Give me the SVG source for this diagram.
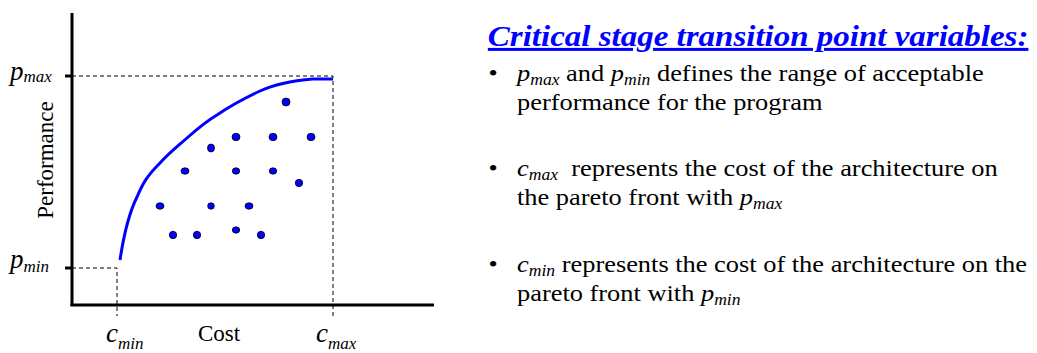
<svg xmlns="http://www.w3.org/2000/svg" width="1037" height="353" viewBox="0 0 1037 353">
<style>
.t{font-family:"Liberation Serif","Times New Roman",serif;fill:#000}
.i{font-style:italic}
.axis{stroke:#000;stroke-width:3;fill:none}
.dash{stroke:#000;stroke-width:1;stroke-dasharray:4,3;fill:none}
.dot{fill:#0000ff;stroke:#000;stroke-width:0.8}
.title{font-family:"Liberation Serif","Times New Roman",serif;font-weight:bold;font-style:italic;fill:#0000ff;text-decoration:underline}
</style>
<rect width="1037" height="353" fill="#fff"/>
<g id="axes">
<line class="axis" x1="72" y1="13" x2="72" y2="306"/>
<line class="axis" x1="70.5" y1="305" x2="434" y2="305"/>
<line class="axis" x1="65" y1="76" x2="72" y2="76" stroke-width="2"/>
<line class="axis" x1="65" y1="268" x2="72" y2="268" stroke-width="2"/>
</g>
<g id="connectors">
<path class="dash" d="M72,76 H333 V316"/>
<path class="dash" d="M72,268 H117 V316"/>
</g>
<g id="pareto-front">
<path d="M120,260 C123,240 128,215 137,197 C143,183 147,176 160,163 C170,152 178,146 187,138 C196,130 205,122 217,115 C233,104 245,98 260,91 C275,84 290,81 313,79 L333,79" fill="none" stroke="#0000ff" stroke-width="3"/>
</g>
<g id="points">
<ellipse class="dot" cx="286" cy="102" rx="4" ry="4"/>
<ellipse class="dot" cx="236" cy="137" rx="4" ry="3.7"/>
<ellipse class="dot" cx="273" cy="137" rx="4" ry="3.7"/>
<ellipse class="dot" cx="311" cy="137" rx="4" ry="3.7"/>
<ellipse class="dot" cx="211" cy="148" rx="3.5" ry="4"/>
<ellipse class="dot" cx="185" cy="171" rx="4" ry="3.2"/>
<ellipse class="dot" cx="236" cy="171" rx="3.7" ry="3.2"/>
<ellipse class="dot" cx="273" cy="171" rx="3.7" ry="3.2"/>
<ellipse class="dot" cx="299" cy="183" rx="3.7" ry="3.7"/>
<ellipse class="dot" cx="160" cy="206" rx="4" ry="3.2"/>
<ellipse class="dot" cx="211" cy="206" rx="3.3" ry="3.2"/>
<ellipse class="dot" cx="249" cy="206" rx="4" ry="3.2"/>
<ellipse class="dot" cx="173" cy="235" rx="3.7" ry="3.7"/>
<ellipse class="dot" cx="197" cy="235" rx="3.7" ry="3.7"/>
<ellipse class="dot" cx="236" cy="230" rx="3.7" ry="3.2"/>
<ellipse class="dot" cx="261" cy="235" rx="3.7" ry="3.7"/>
</g>
<g id="labels">
<text class="t i" x="10" y="80" font-size="27">p<tspan font-size="17" dy="2">max</tspan></text>
<text class="t i" x="10" y="268" font-size="27">p<tspan font-size="17" dy="4">min</tspan></text>
<text class="t i" x="106" y="342" font-size="27">c<tspan font-size="17" dy="7">min</tspan></text>
<text class="t i" x="316" y="342" font-size="27">c<tspan font-size="17" dy="7">max</tspan></text>
<text class="t" x="198" y="341" font-size="23">Cost</text>
<text class="t" transform="translate(53,160) rotate(-90)" text-anchor="middle" font-size="23">Performance</text>
</g>
<g id="description" transform="translate(517,0) scale(1.1,1)">
<text class="title" x="-26.5" y="46" font-size="30">Critical stage transition point variables:</text>
<g class="t" font-size="24">
<text x="-26" y="81">•</text>
<text x="0" y="81"><tspan class="i">p</tspan><tspan class="i" font-size="16" dy="4">max</tspan><tspan dy="-4"> and </tspan><tspan class="i">p</tspan><tspan class="i" font-size="16" dy="4">min</tspan><tspan dy="-4"> defines the range of acceptable</tspan></text>
<text x="0" y="110">performance for the program</text>
<text x="-26" y="176">•</text>
<text x="0" y="176"><tspan class="i">c</tspan><tspan class="i" font-size="16" dy="4">max</tspan><tspan dy="-4"> &#160;represents the cost of the architecture on</tspan></text>
<text x="0" y="205">the pareto front with <tspan class="i">p</tspan><tspan class="i" font-size="16" dy="4">max</tspan></text>
<text x="-26" y="272">•</text>
<text x="0" y="272"><tspan class="i">c</tspan><tspan class="i" font-size="16" dy="4">min</tspan><tspan dy="-4"> represents the cost of the architecture on the</tspan></text>
<text x="0" y="301">pareto front with <tspan class="i">p</tspan><tspan class="i" font-size="16" dy="4">min</tspan></text>
</g>
</g>
</svg>
